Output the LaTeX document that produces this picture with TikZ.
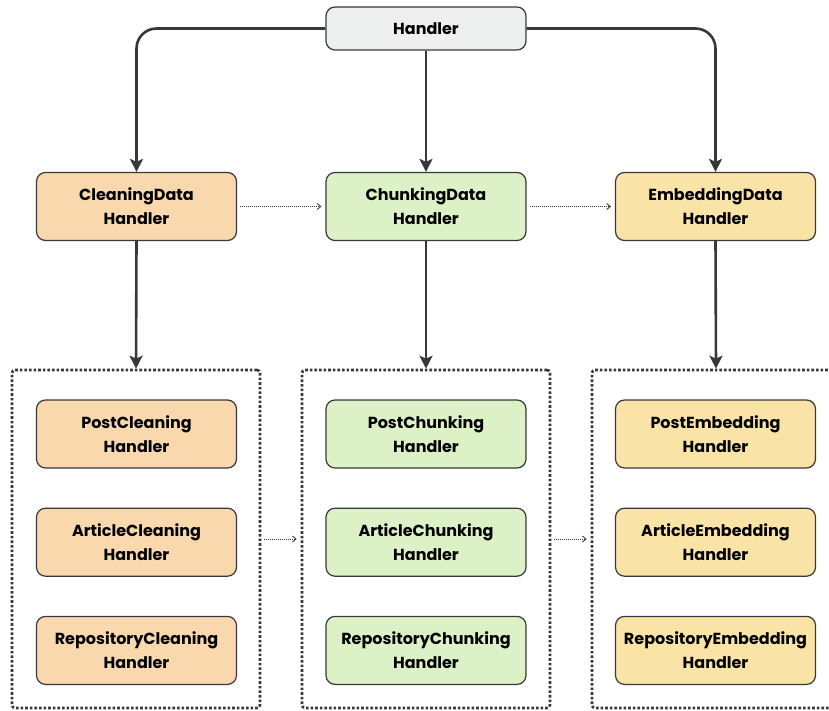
\documentclass[tikz,border=0pt]{standalone}
\usepackage{fontspec}
\setmainfont{Poppins}
\usetikzlibrary{arrows.meta,positioning}
\definecolor{ink}{HTML}{383838}
\definecolor{root}{HTML}{EEEFEF}
\definecolor{clean}{HTML}{F9D8AE}
\definecolor{chunk}{HTML}{DDF1C6}
\definecolor{embed}{HTML}{FAE3A6}
\tikzset{
  hbox/.style={draw=ink,line width=1.2pt,rounded corners=9pt,align=center,inner sep=2pt,font=\bfseries\fontsize{16}{24}\selectfont,minimum width=200pt,minimum height=68pt},
  grp/.style={draw=ink,line width=2.6pt,dash pattern=on 2.6pt off 2pt,rounded corners=3pt,minimum width=248pt,minimum height=338pt},
  fl/.style={-{Stealth[length=13pt,width=13pt,inset=3pt]},draw=ink,line width=2.6pt,rounded corners=20pt},
  dl/.style={-{Straight Barb[length=3.5pt,width=6pt]},draw=ink,line width=0.9pt,dash pattern=on 1pt off 1pt,shorten <=3pt,shorten >=4pt},
}
\begin{document}
\begin{tikzpicture}[x=1pt,y=-1pt]
\useasboundingbox (0,0) rectangle (829,711);
\clip (0,0) rectangle (829,711);
\node[hbox,fill=root,minimum height=43pt] (hd) at (426,28.5) {Handler};
\node[hbox,fill=clean] (cd) at (136.5,206.5) {CleaningData\\Handler};
\node[hbox,fill=chunk] (kd) at (426,206.5) {ChunkingData\\Handler};
\node[hbox,fill=embed] (ed) at (715.5,206.5) {EmbeddingData\\Handler};
% groups of concrete handlers
\node[grp] (gc) at (136,539) {};
\node[grp] (gk) at (426,539) {};
\node[grp] (ge) at (716,539) {};
\node[hbox,fill=clean] (pc) at (136.5,434) {PostCleaning\\Handler};
\node[hbox,fill=clean,below=39pt of pc] (ac) {ArticleCleaning\\Handler};
\node[hbox,fill=clean,below=39pt of ac] (rc) {RepositoryCleaning\\Handler};
\node[hbox,fill=chunk] (pk) at (426,434) {PostChunking\\Handler};
\node[hbox,fill=chunk,below=39pt of pk] (ak) {ArticleChunking\\Handler};
\node[hbox,fill=chunk,below=39pt of ak] (rk) {RepositoryChunking\\Handler};
\node[hbox,fill=embed] (pe) at (715.5,434) {PostEmbedding\\Handler};
\node[hbox,fill=embed,below=39pt of pe] (ae) {ArticleEmbedding\\Handler};
\node[hbox,fill=embed,below=39pt of ae] (re) {RepositoryEmbedding\\Handler};
\draw[fl] (hd.west) -| (cd.north);
\draw[fl] (hd.south) -- (kd.north);
\draw[fl] (hd.east) -| (ed.north);
\draw[fl] (cd.south) -- (gc.north);
\draw[fl] (kd.south) -- (gk.north);
\draw[fl] (ed.south) -- (ge.north);
\draw[dl] (cd.east) -- (kd.west);
\draw[dl] (kd.east) -- (ed.west);
\draw[dl] (gc.east) -- (gk.west);
\draw[dl] (gk.east) -- (ge.west);
\end{tikzpicture}
\end{document}
